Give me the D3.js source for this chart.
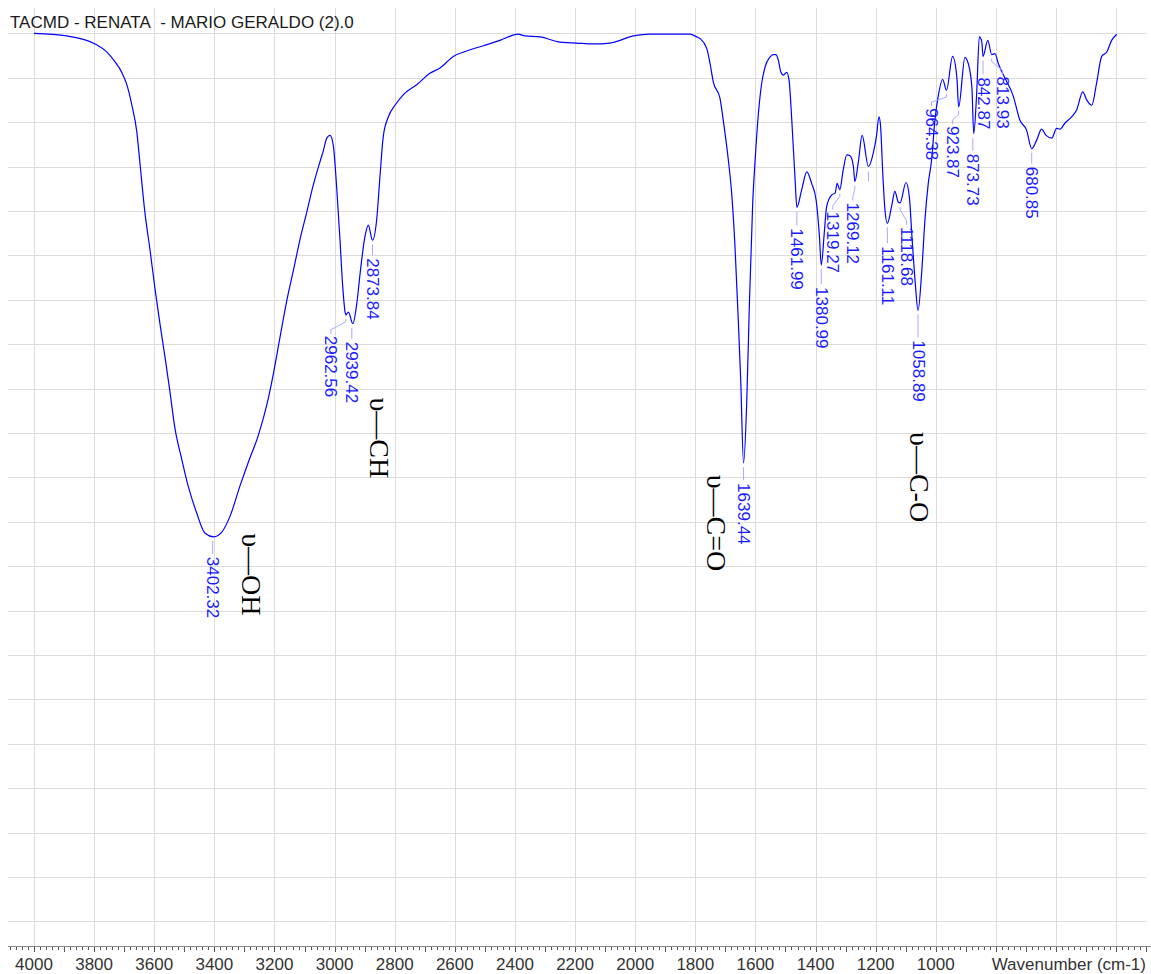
<!DOCTYPE html>
<html>
<head>
<meta charset="utf-8">
<script src="https://cdn.jsdelivr.net/npm/d3@7"></script>
<style>
  body { margin: 0; background: #fff; }
  svg { display: block; }
</style>
</head>
<body>
<svg id="chart" width="1151" height="974"></svg>
<script>
// FTIR spectrum: transmittance (%T) against wavenumber (cm-1)
const title = "TACMD - RENATA  - MARIO GERALDO (2).0";
const axisTitle = "Wavenumber (cm-1)";

const wavenumbers = [
  4000, 3891, 3797, 3758, 3731, 3708, 3692, 3675, 3658, 3647, 3631, 3614, 3597, 3581, 3564, 3548,
  3531, 3509, 3487, 3459, 3431, 3402.32, 3376, 3348, 3315, 3287, 3254, 3226, 3204, 3182, 3159, 3137,
  3115, 3093, 3071, 3049, 3038, 3026, 3015, 3004, 2993, 2982, 2973, 2965, 2962.56, 2954, 2939.42, 2926,
  2915, 2899, 2888, 2873.84, 2860, 2849, 2838, 2821, 2799, 2771, 2727, 2683, 2649, 2605, 2561, 2505,
  2450, 2389, 2367, 2317, 2250, 2195, 2139, 2084, 2006, 1951, 1818, 1795, 1784, 1762, 1751, 1740,
  1718, 1707, 1690, 1679, 1668, 1657, 1649, 1639.44, 1629, 1620, 1609, 1601, 1590, 1579, 1568, 1552,
  1541, 1532, 1524, 1516, 1507, 1496, 1488, 1479, 1468, 1461.99, 1446, 1429, 1413, 1398, 1387, 1380.99,
  1371, 1363, 1346, 1335, 1328, 1319.27, 1308, 1296, 1285, 1274, 1269.12, 1258, 1245, 1224, 1208, 1197,
  1189, 1184, 1176, 1169, 1161.11, 1147, 1136, 1125, 1118.68, 1099, 1088, 1080, 1069, 1058.89, 1047, 1036,
  1025, 1014, 1003, 992, 977, 964.38, 944, 930, 923.87, 903, 892, 880, 873.73, 864, 855, 847,
  842.87, 827, 813.93, 803, 792, 775, 742, 720, 698, 680.85, 664, 648, 633, 614, 598, 587,
  570, 548, 531, 511, 498, 481, 465, 448, 431, 415, 398
];
const transmittance = [
  100.0, 99.7, 98.8, 97.9, 96.8, 95.6, 94.3, 92.0, 88.9, 85.2, 79.8, 75.6, 71.1, 67.3, 63.5, 59.7,
  55.5, 52.1, 49.0, 46.0, 43.7, 43.3, 43.8, 45.6, 49.0, 51.7, 54.7, 58.1, 61.6, 65.7, 69.9, 73.3,
  76.8, 79.8, 82.9, 85.5, 86.7, 88.2, 88.5, 87.3, 82.6, 76.7, 71.5, 68.6, 68.3, 68.6, 67.3, 69.6,
  73.0, 77.1, 78.4, 76.7, 79.0, 83.9, 88.4, 90.6, 91.9, 93.1, 94.2, 95.5, 96.1, 97.4, 98.0, 98.6,
  99.2, 99.9, 99.7, 99.6, 99.0, 98.9, 98.8, 98.9, 99.7, 99.9, 99.9, 99.6, 99.4, 98.3, 96.6, 94.5,
  92.7, 90.2, 85.7, 82.0, 76.0, 67.7, 61.0, 51.6, 58.3, 69.6, 80.9, 85.7, 91.0, 94.4, 96.2, 97.3,
  97.6, 97.6, 97.0, 95.7, 95.3, 95.6, 94.7, 90.2, 83.5, 80.4, 82.4, 84.4, 83.1, 81.2, 77.1, 73.9,
  77.5, 80.5, 81.8, 82.0, 83.1, 82.4, 84.6, 86.3, 86.2, 85.0, 83.3, 85.4, 88.5, 85.0, 86.5, 88.5,
  90.6, 89.7, 84.0, 80.1, 78.6, 80.5, 82.2, 81.0, 80.9, 83.2, 81.6, 77.5, 72.2, 68.8, 73.0, 79.0,
  83.1, 85.7, 90.2, 92.9, 94.8, 93.6, 97.4, 95.1, 91.7, 97.3, 96.6, 94.0, 88.7, 93.2, 99.6, 99.1,
  97.4, 99.2, 97.6, 97.7, 96.6, 95.3, 92.9, 90.2, 89.1, 87.0, 88.0, 89.2, 88.5, 88.2, 89.3, 89.2,
  89.9, 90.6, 91.4, 93.4, 92.5, 91.9, 94.4, 97.4, 97.9, 99.2, 99.9
];

// picked peaks (cm-1) and their printed labels
const peakWavenumbers = [3402.32, 2962.56, 2939.42, 2873.84, 1639.44, 1461.99, 1380.99, 1319.27, 1269.12,
  1161.11, 1118.68, 1058.89, 964.38, 923.87, 873.73, 842.87, 813.93, 680.85];
const peakLabels = peakWavenumbers.map(d => d.toFixed(2));
// a marked peak whose label is not printed
const unlabeledPeaks = [1224];

// band assignments written next to the spectrum
const bandNames = ["\u03C5\u2014OH", "\u03C5\u2014CH", "\u03C5\u2014C=O", "\u03C5\u2014C-O"];
const bandWavenumbers = [3278, 2851, 1731, 1053];
const bandLevels = [43.7, 59.0, 50.3, 55.1];

const tickLabels = [4000, 3800, 3600, 3400, 3200, 3000, 2800, 2600, 2400, 2200, 2000, 1800, 1600, 1400, 1200, 1000];

// ---- layout ----
const W = 1151, H = 974;
const plotLeft = 8, plotRight = 1151, plotTop = 8, axisY = 946;
const x = d3.scaleLinear().domain([4086.5, 284]).range([plotLeft, plotRight]);
const y = d3.scaleLinear().domain([0, 100]).range([921.3, 33.3]);

// label placement: horizontal shift of the text and distance from the peak to the text
const labelShift = [-1, -15, -1, 0, 0, 0, 0, -7, -2, 0, 6.5, 0, -15, -6, -1, 0, 11, 0];
const labelGap = [20, 21, 18, 18, 20, 21, 22, 22, 21, 23, 24, 30, 18, 19, 20, 21, 22, 18];

const sansFont = "'Liberation Sans', Arial, sans-serif";
const keepSpaces = s => s.replace(/ /g, "\u00A0");

const svg = d3.select("#chart");
svg.append("rect").attr("width", W).attr("height", H).attr("fill", "#fff");

// grid
const grid = svg.append("g").attr("stroke", "#dcdcdc").attr("stroke-width", 1).attr("shape-rendering", "crispEdges");
grid.selectAll("line.h").data(d3.range(0, 101, 5)).join("line")
  .attr("class", "h")
  .attr("x1", plotLeft).attr("x2", 1146)
  .attr("y1", d => Math.round(y(d)) + 0.5).attr("y2", d => Math.round(y(d)) + 0.5);
grid.selectAll("line.v").data(d3.range(400, 4001, 200)).join("line")
  .attr("class", "v")
  .attr("x1", d => Math.round(x(d)) + 0.5).attr("x2", d => Math.round(x(d)) + 0.5)
  .attr("y1", plotTop).attr("y2", axisY);

// title
svg.append("text")
  .attr("x", 10).attr("y", 28)
  .attr("font-family", sansFont)
  .attr("font-size", 17)
  .attr("fill", "#1a1a1a")
  .text(keepSpaces(title));

// bottom axis
const axisG = svg.append("g").attr("shape-rendering", "crispEdges");
axisG.append("line")
  .attr("x1", plotLeft).attr("x2", plotRight)
  .attr("y1", axisY + 0.5).attr("y2", axisY + 0.5)
  .attr("stroke", "#8a8a8a");
const minorTicks = d3.range(300, 4081, 20);
axisG.selectAll("line.tick").data(minorTicks).join("line")
  .attr("class", "tick")
  .attr("x1", d => Math.round(x(d)) + 0.5).attr("x2", d => Math.round(x(d)) + 0.5)
  .attr("y1", axisY + 1).attr("y2", d => axisY + 1 + (d % 100 === 0 ? 5 : 3))
  .attr("stroke", "#555");
svg.append("g").selectAll("text").data(tickLabels).join("text")
  .attr("x", d => x(d)).attr("y", 970)
  .attr("text-anchor", "middle")
  .attr("font-family", sansFont)
  .attr("font-size", 17)
  .attr("fill", "#333")
  .text(d => d);
svg.append("text")
  .attr("x", 1146).attr("y", 970)
  .attr("text-anchor", "end")
  .attr("font-family", sansFont)
  .attr("font-size", 17)
  .attr("fill", "#333")
  .text(axisTitle);

// spectrum
const points = wavenumbers.map((w, i) => [w, transmittance[i]]);
const line = d3.line().x(d => x(d[0])).y(d => y(d[1])).curve(d3.curveMonotoneX);
svg.append("path")
  .datum(points)
  .attr("d", line)
  .attr("fill", "none")
  .attr("stroke", "#0000ff")
  .attr("stroke-width", 1.2);

const valueAt = w => transmittance[wavenumbers.indexOf(w)];

// peak leaders and labels
const leaders = svg.append("g").attr("fill", "none").attr("stroke", "#a9a9ff").attr("stroke-width", 1);
const labels = svg.append("g")
  .attr("font-family", sansFont)
  .attr("font-size", 17)
  .attr("fill", "#1a1aff");
peakWavenumbers.forEach((w, i) => {
  const px = x(w), cy = y(valueAt(w));
  const dx = labelShift[i], gap = labelGap[i];
  let d;
  if (Math.abs(dx) < 2) {
    d = `M${px + dx},${cy + 4}V${cy + gap - 3}`;
  } else {
    d = `M${px},${cy + 4}V${cy + 7}L${px + dx},${cy + gap - 6}V${cy + gap - 2}`;
  }
  leaders.append("path").attr("d", d);
  labels.append("text")
    .attr("transform", `translate(${px + dx},${cy + gap}) rotate(90)`)
    .attr("dominant-baseline", "central")
    .text(peakLabels[i]);
});
unlabeledPeaks.forEach(w => {
  const px = x(w), cy = y(valueAt(w));
  leaders.append("path").attr("d", `M${px},${cy + 5}V${cy + 15}`);
});

// band assignments
svg.append("g")
  .attr("font-family", "'Liberation Serif', 'Times New Roman', serif")
  .attr("font-size", 28)
  .attr("fill", "#000")
  .selectAll("text").data(bandNames).join("text")
  .attr("transform", (d, i) => `translate(${x(bandWavenumbers[i])},${y(bandLevels[i])}) rotate(90)`)
  .attr("dominant-baseline", "central")
  .text(d => d);
</script>
</body>
</html>
